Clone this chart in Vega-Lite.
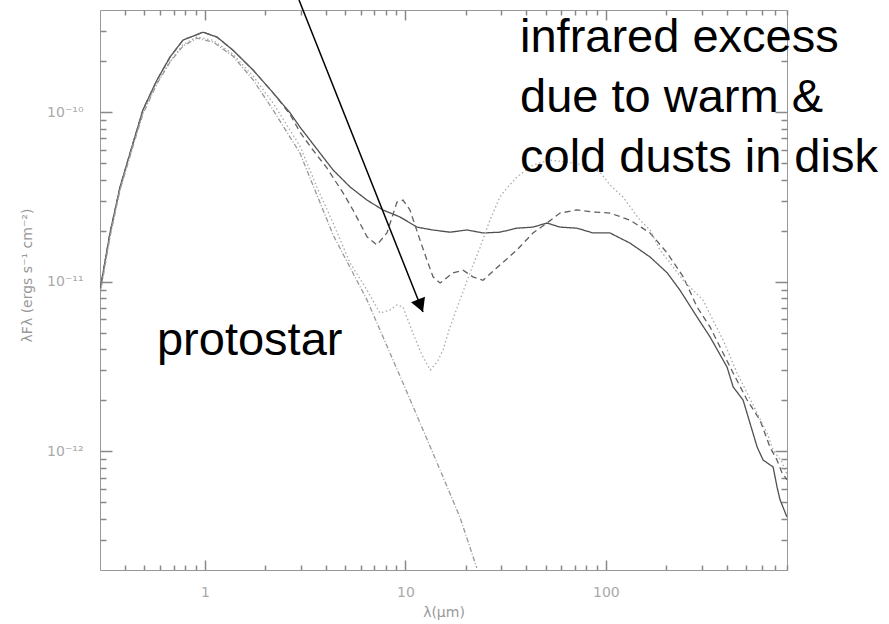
{
  "$schema": "https://vega.github.io/schema/vega-lite/v6.json",
  "width": 687,
  "height": 560,
  "autosize": {"type": "none"},
  "padding": {"left": 100, "top": 10, "right": 102, "bottom": 54},
  "background": "white",
  "config": {
    "view": {"stroke": "#999999", "strokeWidth": 1},
    "axis": {
      "domain": false,
      "grid": false,
      "ticks": true,
      "tickColor": "#888888",
      "tickWidth": 1.5,
      "tickOpacity": 1,
      "labelColor": "#aaaaaa",
      "labelFont": "DejaVu Sans",
      "labelFontSize": 14,
      "titleColor": "#999999",
      "titleFont": "DejaVu Sans",
      "titleFontSize": 14,
      "titleFontWeight": "normal"
    }
  },
  "datasets": {
    "curves": [
      {"m": "solid", "w": 0.300, "f": 8.93e-12},
      {"m": "solid", "w": 0.3365, "f": 1.94e-11},
      {"m": "solid", "w": 0.3776, "f": 3.62e-11},
      {"m": "solid", "w": 0.4385, "f": 6.58e-11},
      {"m": "solid", "w": 0.491, "f": 1.03e-10},
      {"m": "solid", "w": 0.577, "f": 1.546e-10},
      {"m": "solid", "w": 0.670, "f": 2.11e-10},
      {"m": "solid", "w": 0.778, "f": 2.66e-10},
      {"m": "solid", "w": 0.979, "f": 2.96e-10},
      {"m": "solid", "w": 1.15, "f": 2.77e-10},
      {"m": "solid", "w": 1.38, "f": 2.32e-10},
      {"m": "solid", "w": 1.74, "f": 1.77e-10},
      {"m": "solid", "w": 2.19, "f": 1.30e-10},
      {"m": "solid", "w": 2.66, "f": 9.9e-11},
      {"m": "solid", "w": 2.98, "f": 8.17e-11},
      {"m": "solid", "w": 3.75, "f": 5.74e-11},
      {"m": "solid", "w": 4.36, "f": 4.56e-11},
      {"m": "solid", "w": 5.30, "f": 3.62e-11},
      {"m": "solid", "w": 6.44, "f": 3.03e-11},
      {"m": "solid", "w": 7.73, "f": 2.65e-11},
      {"m": "solid", "w": 9.40, "f": 2.41e-11},
      {"m": "solid", "w": 11.43, "f": 2.10e-11},
      {"m": "solid", "w": 13.7, "f": 2.02e-11},
      {"m": "solid", "w": 16.7, "f": 1.96e-11},
      {"m": "solid", "w": 20.3, "f": 2.02e-11},
      {"m": "solid", "w": 24.4, "f": 1.94e-11},
      {"m": "solid", "w": 29.6, "f": 1.96e-11},
      {"m": "solid", "w": 36.0, "f": 2.07e-11},
      {"m": "solid", "w": 43.3, "f": 2.10e-11},
      {"m": "solid", "w": 50.8, "f": 2.22e-11},
      {"m": "solid", "w": 59.0, "f": 2.10e-11},
      {"m": "solid", "w": 71.7, "f": 2.07e-11},
      {"m": "solid", "w": 86.3, "f": 1.94e-11},
      {"m": "solid", "w": 104.8, "f": 1.94e-11},
      {"m": "solid", "w": 131.9, "f": 1.69e-11},
      {"m": "solid", "w": 166, "f": 1.40e-11},
      {"m": "solid", "w": 202, "f": 1.13e-11},
      {"m": "solid", "w": 234, "f": 8.93e-12},
      {"m": "solid", "w": 285, "f": 6.19e-12},
      {"m": "solid", "w": 331, "f": 4.72e-12},
      {"m": "solid", "w": 402, "f": 3.14e-12},
      {"m": "solid", "w": 431, "f": 2.40e-12},
      {"m": "solid", "w": 483, "f": 2.01e-12},
      {"m": "solid", "w": 568, "f": 1.06e-12},
      {"m": "solid", "w": 608, "f": 8.9e-13},
      {"m": "solid", "w": 682, "f": 8.1e-13},
      {"m": "solid", "w": 713, "f": 6.2e-13},
      {"m": "solid", "w": 738, "f": 5.2e-13},
      {"m": "solid", "w": 800, "f": 4.1e-13},

      {"m": "dashed", "w": 0.300, "f": 8.93e-12},
      {"m": "dashed", "w": 0.3365, "f": 1.94e-11},
      {"m": "dashed", "w": 0.3776, "f": 3.62e-11},
      {"m": "dashed", "w": 0.4385, "f": 6.58e-11},
      {"m": "dashed", "w": 0.491, "f": 1.03e-10},
      {"m": "dashed", "w": 0.577, "f": 1.546e-10},
      {"m": "dashed", "w": 0.670, "f": 2.11e-10},
      {"m": "dashed", "w": 0.778, "f": 2.66e-10},
      {"m": "dashed", "w": 0.979, "f": 2.96e-10},
      {"m": "dashed", "w": 1.15, "f": 2.77e-10},
      {"m": "dashed", "w": 1.38, "f": 2.32e-10},
      {"m": "dashed", "w": 1.74, "f": 1.77e-10},
      {"m": "dashed", "w": 2.19, "f": 1.30e-10},
      {"m": "dashed", "w": 2.66, "f": 9.7e-11},
      {"m": "dashed", "w": 2.98, "f": 7.63e-11},
      {"m": "dashed", "w": 3.46, "f": 5.98e-11},
      {"m": "dashed", "w": 4.06, "f": 4.69e-11},
      {"m": "dashed", "w": 4.89, "f": 3.34e-11},
      {"m": "dashed", "w": 5.48, "f": 2.65e-11},
      {"m": "dashed", "w": 6.44, "f": 1.84e-11},
      {"m": "dashed", "w": 7.21, "f": 1.65e-11},
      {"m": "dashed", "w": 8.09, "f": 1.94e-11},
      {"m": "dashed", "w": 9.08, "f": 2.95e-11},
      {"m": "dashed", "w": 9.73, "f": 3.03e-11},
      {"m": "dashed", "w": 10.54, "f": 2.65e-11},
      {"m": "dashed", "w": 11.83, "f": 1.76e-11},
      {"m": "dashed", "w": 12.82, "f": 1.34e-11},
      {"m": "dashed", "w": 13.74, "f": 1.07e-11},
      {"m": "dashed", "w": 14.89, "f": 9.84e-12},
      {"m": "dashed", "w": 17.3, "f": 1.13e-11},
      {"m": "dashed", "w": 19.4, "f": 1.17e-11},
      {"m": "dashed", "w": 21.7, "f": 1.07e-11},
      {"m": "dashed", "w": 24.4, "f": 1.02e-11},
      {"m": "dashed", "w": 28.6, "f": 1.21e-11},
      {"m": "dashed", "w": 36.0, "f": 1.54e-11},
      {"m": "dashed", "w": 43.3, "f": 1.94e-11},
      {"m": "dashed", "w": 50.8, "f": 2.22e-11},
      {"m": "dashed", "w": 59.0, "f": 2.54e-11},
      {"m": "dashed", "w": 71.7, "f": 2.65e-11},
      {"m": "dashed", "w": 86.3, "f": 2.58e-11},
      {"m": "dashed", "w": 104.8, "f": 2.54e-11},
      {"m": "dashed", "w": 131.9, "f": 2.31e-11},
      {"m": "dashed", "w": 166, "f": 1.94e-11},
      {"m": "dashed", "w": 202, "f": 1.48e-11},
      {"m": "dashed", "w": 243, "f": 1.07e-11},
      {"m": "dashed", "w": 285, "f": 7.1e-12},
      {"m": "dashed", "w": 331, "f": 5.4e-12},
      {"m": "dashed", "w": 384, "f": 3.8e-12},
      {"m": "dashed", "w": 431, "f": 2.9e-12},
      {"m": "dashed", "w": 506, "f": 2.01e-12},
      {"m": "dashed", "w": 587, "f": 1.53e-12},
      {"m": "dashed", "w": 658, "f": 1.06e-12},
      {"m": "dashed", "w": 713, "f": 8.9e-13},
      {"m": "dashed", "w": 755, "f": 7.5e-13},
      {"m": "dashed", "w": 800, "f": 6.8e-13},

      {"m": "dotted", "w": 0.300, "f": 8.5e-12},
      {"m": "dotted", "w": 0.3365, "f": 1.86e-11},
      {"m": "dotted", "w": 0.3776, "f": 3.5e-11},
      {"m": "dotted", "w": 0.4385, "f": 6.4e-11},
      {"m": "dotted", "w": 0.491, "f": 9.9e-11},
      {"m": "dotted", "w": 0.577, "f": 1.49e-10},
      {"m": "dotted", "w": 0.670, "f": 2.0e-10},
      {"m": "dotted", "w": 0.778, "f": 2.5e-10},
      {"m": "dotted", "w": 0.914, "f": 2.78e-10},
      {"m": "dotted", "w": 1.098, "f": 2.65e-10},
      {"m": "dotted", "w": 1.38, "f": 2.2e-10},
      {"m": "dotted", "w": 1.74, "f": 1.63e-10},
      {"m": "dotted", "w": 2.19, "f": 1.13e-10},
      {"m": "dotted", "w": 2.98, "f": 6.31e-11},
      {"m": "dotted", "w": 3.62, "f": 3.62e-11},
      {"m": "dotted", "w": 4.36, "f": 2.22e-11},
      {"m": "dotted", "w": 5.30, "f": 1.29e-11},
      {"m": "dotted", "w": 6.44, "f": 8.93e-12},
      {"m": "dotted", "w": 7.47, "f": 6.54e-12},
      {"m": "dotted", "w": 8.38, "f": 6.82e-12},
      {"m": "dotted", "w": 9.08, "f": 7.3e-12},
      {"m": "dotted", "w": 9.73, "f": 7.1e-12},
      {"m": "dotted", "w": 10.9, "f": 4.99e-12},
      {"m": "dotted", "w": 12.1, "f": 3.7e-12},
      {"m": "dotted", "w": 13.3, "f": 3.02e-12},
      {"m": "dotted", "w": 14.4, "f": 3.36e-12},
      {"m": "dotted", "w": 15.4, "f": 3.96e-12},
      {"m": "dotted", "w": 16.7, "f": 5.41e-12},
      {"m": "dotted", "w": 18.7, "f": 7.8e-12},
      {"m": "dotted", "w": 21.0, "f": 1.13e-11},
      {"m": "dotted", "w": 23.6, "f": 1.6e-11},
      {"m": "dotted", "w": 26.4, "f": 2.31e-11},
      {"m": "dotted", "w": 29.6, "f": 3.16e-11},
      {"m": "dotted", "w": 32.1, "f": 3.57e-11},
      {"m": "dotted", "w": 36.0, "f": 4.15e-11},
      {"m": "dotted", "w": 43.3, "f": 4.88e-11},
      {"m": "dotted", "w": 52.6, "f": 5.22e-11},
      {"m": "dotted", "w": 64.0, "f": 5.08e-11},
      {"m": "dotted", "w": 76.9, "f": 4.88e-11},
      {"m": "dotted", "w": 93.5, "f": 4.43e-11},
      {"m": "dotted", "w": 104.8, "f": 3.72e-11},
      {"m": "dotted", "w": 121.6, "f": 3.16e-11},
      {"m": "dotted", "w": 147.9, "f": 2.31e-11},
      {"m": "dotted", "w": 166, "f": 2.02e-11},
      {"m": "dotted", "w": 186, "f": 1.54e-11},
      {"m": "dotted", "w": 209, "f": 1.29e-11},
      {"m": "dotted", "w": 243, "f": 1.02e-11},
      {"m": "dotted", "w": 305, "f": 7.8e-12},
      {"m": "dotted", "w": 342, "f": 5.94e-12},
      {"m": "dotted", "w": 384, "f": 4.54e-12},
      {"m": "dotted", "w": 451, "f": 2.9e-12},
      {"m": "dotted", "w": 506, "f": 2.21e-12},
      {"m": "dotted", "w": 568, "f": 1.68e-12},
      {"m": "dotted", "w": 637, "f": 1.28e-12},
      {"m": "dotted", "w": 682, "f": 1.02e-12},
      {"m": "dotted", "w": 755, "f": 8.65e-13},
      {"m": "dotted", "w": 800, "f": 7.3e-13},

      {"m": "photo", "w": 0.300, "f": 8.35e-12},
      {"m": "photo", "w": 0.3365, "f": 1.84e-11},
      {"m": "photo", "w": 0.3776, "f": 3.48e-11},
      {"m": "photo", "w": 0.4385, "f": 6.31e-11},
      {"m": "photo", "w": 0.491, "f": 9.75e-11},
      {"m": "photo", "w": 0.577, "f": 1.47e-10},
      {"m": "photo", "w": 0.670, "f": 1.97e-10},
      {"m": "photo", "w": 0.778, "f": 2.45e-10},
      {"m": "photo", "w": 0.914, "f": 2.73e-10},
      {"m": "photo", "w": 1.098, "f": 2.59e-10},
      {"m": "photo", "w": 1.38, "f": 2.14e-10},
      {"m": "photo", "w": 1.74, "f": 1.55e-10},
      {"m": "photo", "w": 2.19, "f": 1.03e-10},
      {"m": "photo", "w": 2.98, "f": 5.74e-11},
      {"m": "photo", "w": 4.36, "f": 1.89e-11},
      {"m": "photo", "w": 6.44, "f": 7.8e-12},
      {"m": "photo", "w": 9.73, "f": 2.53e-12},
      {"m": "photo", "w": 14.4, "f": 8.55e-13},
      {"m": "photo", "w": 18.7, "f": 4.1e-13},
      {"m": "photo", "w": 22.7, "f": 2.06e-13}
    ],
    "notes": [
      {"t": "infrared excess", "w": 37.3, "f": 2.262e-10},
      {"t": "due to warm &", "w": 37.3, "f": 1.0e-10},
      {"t": "cold dusts in disk", "w": 37.3, "f": 4.43e-11},
      {"t": "protostar", "w": 0.577, "f": 3.7e-12}
    ],
    "arrow": [
      {"w1": 2.948, "f1": 4.58e-10, "w2": 12.24, "f2": 6.63e-12}
    ]
  },
  "layer": [
    {
      "data": {"name": "curves"},
      "mark": {"type": "line", "strokeWidth": 1.3, "clip": true},
      "encoding": {
        "x": {
          "field": "w", "type": "quantitative",
          "scale": {"type": "log", "domain": [0.3, 800], "nice": false},
          "axis": {
            "orient": "bottom",
            "title": "λ(μm)",
            "values": [1, 10, 100],
            "labelExpr": "datum.value == 1 ? '1' : datum.value == 10 ? '10' : '100'",
            "offset": -10,
            "tickSize": 10,
            "labelPadding": 15,
            "labelFlush": false,
            "labelOverlap": false,
            "titleY": 52,
            "titleBaseline": "middle"
          }
        },
        "y": {
          "field": "f", "type": "quantitative",
          "scale": {"type": "log", "domain": [2e-13, 4e-10], "nice": false},
          "axis": {
            "orient": "left",
            "title": "λFλ (ergs s⁻¹ cm⁻²)",
            "values": [1e-12, 1e-11, 1e-10],
            "labelExpr": "datum.value == 1e-10 ? '10⁻¹⁰' : datum.value == 1e-11 ? '10⁻¹¹' : '10⁻¹²'",
            "offset": -12,
            "tickSize": 12,
            "labelPadding": 17,
            "labelFlush": false,
            "labelOverlap": false,
            "titleX": -85,
            "titleY": 265,
            "titleAngle": 270,
            "titleBaseline": "middle",
            "titleAlign": "center"
          }
        },
        "color": {
          "field": "m", "type": "nominal", "legend": null,
          "scale": {"domain": ["solid", "dashed", "dotted", "photo"], "range": ["#505050", "#606060", "#aaaaaa", "#999999"]}
        },
        "strokeDash": {
          "field": "m", "type": "nominal", "legend": null,
          "scale": {"domain": ["solid", "dashed", "dotted", "photo"], "range": [[1, 0], [6, 4], [1.5, 2.5], [5, 2, 1, 2]]}
        }
      }
    },
    {
      "data": {"name": "notes"},
      "mark": {"type": "text", "font": "Liberation Sans", "fontSize": 47, "align": "left", "baseline": "alphabetic", "color": "#000000"},
      "encoding": {
        "x": {
          "field": "w", "type": "quantitative",
          "scale": {"type": "log", "domain": [0.3, 800], "nice": false},
          "axis": {"orient": "top", "title": null, "labels": false, "values": [1, 10, 100], "offset": -10, "tickSize": 10}
        },
        "y": {
          "field": "f", "type": "quantitative",
          "scale": {"type": "log", "domain": [2e-13, 4e-10], "nice": false},
          "axis": {"orient": "right", "title": null, "labels": false, "values": [1e-12, 1e-11, 1e-10], "offset": -12, "tickSize": 12}
        },
        "text": {"field": "t"}
      }
    },
    {
      "data": {"name": "arrow"},
      "mark": {"type": "rule", "color": "#000000", "strokeWidth": 1.5},
      "encoding": {
        "x": {
          "field": "w1", "type": "quantitative",
          "scale": {"type": "log", "domain": [0.3, 800], "nice": false},
          "axis": {"orient": "bottom", "title": null, "labels": false, "values": [0.4,0.5,0.6,0.7,0.8,0.9,2,3,4,5,6,7,8,9,20,30,40,50,60,70,80,90,200,300,400,500,600,700,800], "offset": -5, "tickSize": 5}
        },
        "y": {
          "field": "f1", "type": "quantitative",
          "scale": {"type": "log", "domain": [2e-13, 4e-10], "nice": false},
          "axis": {"orient": "left", "title": null, "labels": false, "values": [3e-13,4e-13,5e-13,6e-13,7e-13,8e-13,9e-13,2e-12,3e-12,4e-12,5e-12,6e-12,7e-12,8e-12,9e-12,2e-11,3e-11,4e-11,5e-11,6e-11,7e-11,8e-11,9e-11,2e-10,3e-10], "offset": -6, "tickSize": 6}
        },
        "x2": {"field": "w2"},
        "y2": {"field": "f2"}
      }
    },
    {
      "data": {"name": "arrow"},
      "mark": {"type": "point", "shape": "M0,0L-1,-1.8L1,-1.8Z", "filled": true, "color": "#000000", "opacity": 1, "size": 225, "angle": 338.3},
      "encoding": {
        "x": {
          "field": "w2", "type": "quantitative",
          "scale": {"type": "log", "domain": [0.3, 800], "nice": false},
          "axis": {"orient": "top", "title": null, "labels": false, "values": [0.4,0.5,0.6,0.7,0.8,0.9,2,3,4,5,6,7,8,9,20,30,40,50,60,70,80,90,200,300,400,500,600,700,800], "offset": -5, "tickSize": 5}
        },
        "y": {
          "field": "f2", "type": "quantitative",
          "scale": {"type": "log", "domain": [2e-13, 4e-10], "nice": false},
          "axis": {"orient": "right", "title": null, "labels": false, "values": [3e-13,4e-13,5e-13,6e-13,7e-13,8e-13,9e-13,2e-12,3e-12,4e-12,5e-12,6e-12,7e-12,8e-12,9e-12,2e-11,3e-11,4e-11,5e-11,6e-11,7e-11,8e-11,9e-11,2e-10,3e-10], "offset": -6, "tickSize": 6}
        }
      }
    }
  ],
  "resolve": {"axis": {"x": "independent", "y": "independent"}}
}
